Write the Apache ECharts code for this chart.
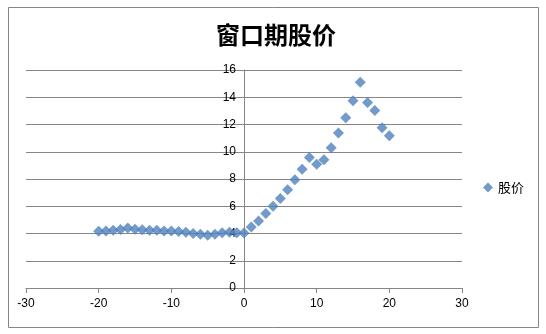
<!DOCTYPE html>
<html>
<head>
<meta charset="utf-8">
<script src="https://cdn.jsdelivr.net/npm/echarts@6/dist/echarts.min.js"></script>
<style>
  html, body { margin: 0; padding: 0; background: #fff; }
  #main { width: 546px; height: 334px; }
</style>
</head>
<body>
<div id="main"></div>
<script>
// days relative to the window, and the price on each day
var days = [-20, -19, -18, -17, -16, -15, -14, -13, -12, -11, -10, -9, -8, -7, -6, -5, -4, -3, -2, -1,
  0, 1, 2, 3, 4, 5, 6, 7, 8, 9, 10, 11, 12, 13, 14, 15, 16, 17, 18, 19, 20];
var prices = [4.17, 4.19, 4.24, 4.3, 4.4, 4.32, 4.28, 4.24, 4.24, 4.19, 4.19, 4.15, 4.1, 4.0, 3.95, 3.87, 3.95, 4.05, 4.1, 4.05,
  4.04, 4.48, 4.92, 5.46, 6.0, 6.56, 7.22, 7.95, 8.71, 9.57, 9.08, 9.42, 10.3, 11.37, 12.5, 13.74, 15.1, 13.62, 13.03, 11.77, 11.18];
var seriesName = '股价';
var titleText = '窗口期股价';

var points = days.map(function (d, i) { return [d, prices[i]]; });
var gray = '#868686';
var numFont = 'Liberation Sans';

var myChart = echarts.init(document.getElementById('main'));
myChart.setOption({
  animation: false,
  backgroundColor: '#fff',
  title: {
    text: titleText,
    left: 271,
    textAlign: 'center',
    top: 18,
    textStyle: { fontFamily: 'Noto Sans CJK SC', fontSize: 24, fontWeight: 'bold', color: '#000' }
  },
  legend: {
    data: [seriesName],
    left: 478,
    top: 176,
    icon: 'diamond',
    itemWidth: 10,
    itemHeight: 10,
    itemGap: 4,
    textStyle: { fontFamily: 'Noto Sans CJK SC', fontSize: 13, color: '#000' }
  },
  grid: { left: 26, right: 84, top: 70, bottom: 46 },
  xAxis: {
    type: 'value',
    min: -30, max: 30, interval: 10,
    splitLine: { show: false },
    axisLine: { lineStyle: { color: gray } },
    axisTick: { show: true, length: 5, lineStyle: { color: gray } },
    axisLabel: { fontFamily: numFont, fontSize: 12, color: '#000', margin: 10 }
  },
  yAxis: {
    type: 'value',
    min: 0, max: 16, interval: 2,
    offset: -218,
    axisLine: { show: true, onZero: false, lineStyle: { color: gray } },
    axisTick: { show: true, length: 4, lineStyle: { color: gray } },
    axisLabel: { fontFamily: numFont, fontSize: 12, color: '#000', margin: 8 },
    splitLine: { lineStyle: { color: gray, width: 1 } }
  },
  series: [{
    name: seriesName,
    type: 'scatter',
    symbol: 'diamond',
    symbolSize: 11,
    itemStyle: { color: '#4F81BD' },
    data: points
  }],
  graphic: [{
    type: 'rect',
    shape: { x: 8.5, y: 7.5, width: 530, height: 320 },
    style: { fill: null, stroke: gray, lineWidth: 1 },
    silent: true
  }]
});
</script>
</body>
</html>
